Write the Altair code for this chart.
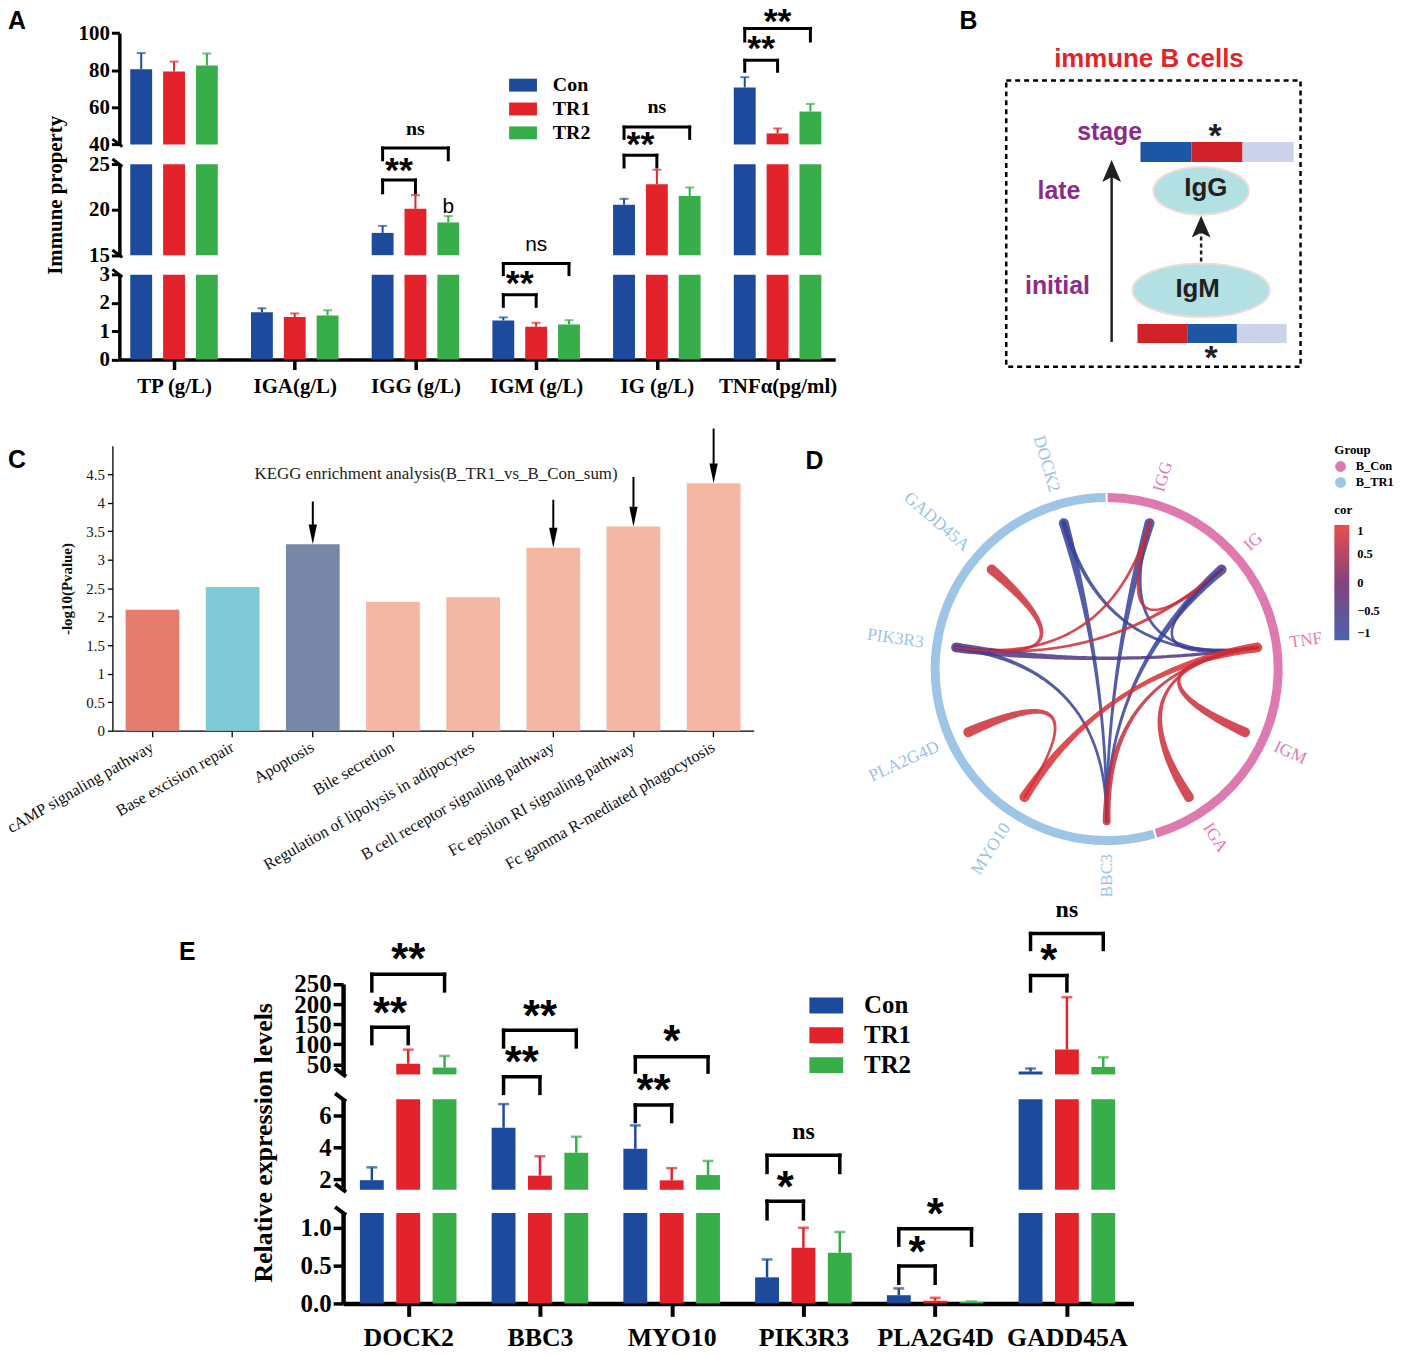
import json
import math

import altair as alt
import pandas as pd

# ------------------------------------------------------------------
# canvas: one big view in the reference pixel frame (shifted by the page margin)
OFF = 8
W, H = 1396, 1347


def R(v):
    return v - OFF


SERIF = "Liberation Serif"
SANS = "Liberation Sans"

# ------------------------------------------------------------------
# DATA
GROUPS = ["Con", "TR1", "TR2"]
GROUP_COLORS = ["#1D4A9C", "#E3232B", "#37AE4A"]

# Panel A : immune properties (mean, sd)
A_CATS = ["TP (g/L)", "IGA(g/L)", "IGG (g/L)", "IGM (g/L)", "IG (g/L)", "TNFα(pg/ml)"]
A_CON = [80.5, 1.67, 17.45, 1.38, 20.55, 70.7]
A_TR1 = [79.3, 1.50, 20.1, 1.16, 22.8, 45.9]
A_TR2 = [82.5, 1.56, 18.6, 1.24, 21.5, 57.7]
A_CON_SD = [8.7, 0.14, 0.77, 0.11, 0.65, 5.5]
A_TR1_SD = [5.3, 0.13, 1.5, 0.14, 1.6, 2.7]
A_TR2_SD = [6.5, 0.18, 0.7, 0.15, 0.95, 4.1]
# significance: segment, category, from group, to group, bar level, leg end, label, label level, style
A_SIG = [
    ("mid", 2, 0, 1, 23.28, 21.86, "**", 24.9, "star"),
    ("mid", 2, 0, 2, 26.8, 25.5, "ns", 28.7, "ns_serif"),
    ("bot", 3, 0, 1, 2.29, 1.88, "**", 2.89, "star"),
    ("bot", 3, 0, 2, 3.39, 3.0, "ns", 4.03, "ns_sans"),
    ("mid", 4, 0, 1, 26.0, 24.7, "**", 27.8, "star"),
    ("mid", 4, 0, 2, 29.1, 27.85, "ns", 31.2, "ns_serif"),
    ("top", 5, 0, 1, 85.3, 79.4, "**", 94.8, "star"),
    ("top", 5, 0, 2, 102.5, 95.7, "**", 109.0, "star"),
]
A_EXTRA = [("mid", 2, 2, 20.5, "b", "b")]  # segment, category, group, level, text, style

# Panel C : KEGG enrichment
C_PATHS = ["cAMP signaling pathway", "Base excision repair", "Apoptosis", "Bile secretion",
           "Regulation of lipolysis in adipocytes", "B cell receptor signaling pathway",
           "Fc epsilon RI signaling pathway", "Fc gamma R-mediated phagocytosis"]
C_VALS = [2.12, 2.52, 3.27, 2.26, 2.34, 3.21, 3.58, 4.34]
C_COLORS = ["#E57C6E", "#80C9D7", "#7886A8", "#F3B7A4", "#F3B7A4", "#F3B7A4", "#F3B7A4", "#F3B7A4"]
C_ARROW_PATHS = ["Apoptosis", "B cell receptor signaling pathway",
                 "Fc epsilon RI signaling pathway", "Fc gamma R-mediated phagocytosis"]
C_ARROW_TOPS = [4.02, 4.05, 4.45, 5.3]
C_TITLE = "KEGG enrichment analysis(B_TR1_vs_B_Con_sum)"

# Panel D : correlation chord diagram
D_NODES = ["IGG", "IG", "TNF", "IGM", "IGA", "BBC3", "MYO10", "PLA2G4D", "PIK3R3", "GADD45A", "DOCK2"]
D_NODE_GROUP = ["B_Con"] * 5 + ["B_TR1"] * 6
D_GROUP_NAMES = ["B_Con", "B_TR1"]
D_GROUP_COLORS = ["#DE7AAF", "#9FC5E6"]
D_LABEL_COLORS = ["#E07DB2", "#9CC2E5"]
D_LINK_SRC = ["DOCK2", "DOCK2", "IGG", "IGG", "IGG", "IGG", "IG", "IG", "IG", "PIK3R3", "PIK3R3",
              "GADD45A", "PLA2G4D", "MYO10", "BBC3", "IGM", "IGA"]
D_LINK_TGT = ["BBC3", "TNF", "BBC3", "TNF", "PIK3R3", "IG", "BBC3", "PIK3R3", "TNF", "TNF", "BBC3",
              "PIK3R3", "MYO10", "TNF", "TNF", "TNF", "TNF"]
D_LINK_COR = [-0.85, -0.8, -0.85, -0.75, 0.8, 0.8, -0.85, 0.8, -0.7, -0.45, -0.8,
              0.8, 0.8, 0.9, 0.75, 0.8, 0.8]
D_LINK_W_SRC = [10, 5, 10, 4, 3, 3, 10, 4, 3, 10, 5, 10, 10, 10, 8, 10, 10]
D_LINK_W_TGT = [3, 3, 3, 3, 3, 2.5, 3, 3, 2.5, 4, 3, 2.5, 2.5, 10, 3, 2.5, 2.5]
COR_STOPS = [-1, 0, 1]
COR_COLORS = ["#2A48A0", "#6C2268", "#E4302B"]

# Panel E : relative expression (mean, sd)
E_GENES = ["DOCK2", "BBC3", "MYO10", "PIK3R3", "PLA2G4D", "GADD45A"]
E_CON = [1.95, 5.22, 3.91, 0.346, 0.109, 32.0]
E_TR1 = [51.7, 2.23, 1.94, 0.737, 0.035, 87.0]
E_TR2 = [42.0, 3.66, 2.27, 0.671, 0.02, 43.6]
E_CON_SD = [0.8, 1.48, 1.46, 0.237, 0.09, 8.0]
E_TR1_SD = [35.0, 1.21, 0.76, 0.267, 0.04, 130.0]
E_TR2_SD = [29.0, 1.0, 0.88, 0.276, 0.005, 24.0]
E_SIG = [
    ("top", 0, 0, 1, 142.2, 101.6, "**", 192.4, "star"),
    ("top", 0, 0, 2, 274.0, 232.7, "**", 325.9, "star"),
    ("mid", 1, 0, 1, 8.41, 7.37, "**", 9.65, "star"),
    ("mid", 1, 0, 2, 11.31, 10.27, "**", 12.55, "star"),
    ("mid", 2, 0, 1, 6.65, 5.61, "**", 7.93, "star"),
    ("mid", 2, 0, 2, 9.65, 8.70, "*", 10.98, "star"),
    ("bot", 3, 0, 1, 1.355, 1.122, "*", 1.614, "star"),
    ("bot", 3, 0, 2, 1.964, 1.737, "ns", 2.254, "ns_serif"),
    ("bot", 4, 0, 1, 0.496, 0.267, "*", 0.759, "star"),
    ("bot", 4, 0, 2, 0.991, 0.772, "*", 1.254, "star"),
    ("top", 5, 0, 1, 270.8, 232.7, "*", 323.4, "star"),
    ("top", 5, 0, 2, 375.4, 335.8, "ns", 430.5, "ns_serif"),
]

# Panel B : schematic
B_TITLE = "immune B cells"
B_STAGE_BAR = ["Con", "TR1", "TR2"]
B_INITIAL_BAR = ["TR1", "Con", "TR2"]
B_BAR_COLORS = {"Con": "#1D56A5", "TR1": "#D22229", "TR2": "#CAD3EA"}

PANEL_LETTERS = ["A", "B", "C", "D", "E"]

# ------------------------------------------------------------------
# LAYOUT (reference pixel frame)
A_X = (120, 840, 175, 121.4)          # axis left, right, first group centre, step
A_SEGS = [("top", 40, 100, 141.3, 29.3, [40, 60, 80, 100]),
          ("mid", 15, 25, 252.7, 161.3, [15, 20, 25]),
          ("bot", 0, 3, 357.7, 272.3, [0, 1, 2, 3])]
E_X = (345, 1140, 410.5, 132.5)
E_SEGS = [("top", 25, 250, 1076.7, 985.7, [50, 100, 150, 200, 250]),
          ("mid", 1.35, 7, 1192.7, 1101.7, [2, 4, 6]),
          ("bot", 0, 1.2, 1307, 1216, [0, 0.5, 1.0])]
C_BOX = (113, 758, 731, 444.3)
D_C = (1113, 669)
RING_OUT, RING_IN, LINK_R, LABEL_R = 177, 168, 153, 186
THIN_W = 2.5
B_ORIGIN = (1000, 30)
LETTER_POS = [(8, 25), (965, 25), (8, 467), (810, 468), (180, 962)]
STAR_DY = 0.47


def qscale(dom, rng, **kw):
    return alt.Scale(domain=list(dom), range=[R(rng[0]), R(rng[1])], nice=False, zero=False,
                     padding=0, **kw)


def xdomain(spec):
    left, right, c0, step = spec
    return ((left - c0) / step, (right - c0) / step), (left, right)


layers = []


# ------------------------------------------------------------------
# broken-axis grouped bar panels (A and E)
def bar_frame(cats, means, sds, offset):
    rows = []
    for i, cat in enumerate(cats):
        for g, name in enumerate(GROUPS):
            m, s = means[g][i], sds[g][i]
            rows.append({"cat": cat, "group": name, "xpos": i + (g - 1) * offset, "mean": m, "top": m + s})
    return pd.DataFrame(rows)


def broken_panel(df, segs, xspec, bar_w, cap_w, err_w, style, xaxis, ytitle, legend,
                 sig, extra, offset, tstyles, bracket_w, brk_len):
    (xd, xr) = xdomain(xspec)
    cs = alt.Scale(domain=GROUPS, range=GROUP_COLORS)
    out = []
    for k, (name, lo, hi, ybot, ytop, ticks) in enumerate(segs):
        xs = qscale(xd, xr)
        ys = qscale((lo, hi), (ybot, ytop))
        yax = dict(orient="left", offset=-R(xspec[0]), values=ticks, grid=False,
                   domainColor="black", domainWidth=style["dw"], tickColor="black",
                   tickWidth=style["tw"], tickSize=style["ts"], labelFont=SERIF,
                   labelFontWeight="bold", labelFontSize=style["lfs"], labelColor="black",
                   labelPadding=style["lp"], labelOverlap=False, labelFlush=False)
        if name == "bot" and style.get("fmt"):
            yax["format"] = style["fmt"]
        if name == "mid":
            yax.update(title=ytitle[0], titleFont=SERIF, titleFontWeight="bold",
                       titleFontSize=ytitle[1], titleColor="black", titleX=ytitle[2],
                       titleY=R(ytitle[3]))
        else:
            yax["title"] = None
        xax = xaxis if name == "bot" else None
        base = alt.Chart(df)
        out.append(
            base.transform_filter(f"datum.mean > {lo}")
            .transform_calculate(yb=f"{lo}", yt=f"min(datum.mean, {hi})")
            .mark_bar(size=bar_w)
            .encode(x=alt.X("xpos:Q", scale=xs, axis=xax),
                    y=alt.Y("yt:Q", scale=ys, axis=alt.Axis(**yax)),
                    y2="yb:Q",
                    color=alt.Color("group:N", scale=cs, legend=legend if name == "top" else None))
        )
        out.append(
            base.transform_filter(f"datum.mean >= {lo} && datum.mean <= {hi}")
            .transform_calculate(yt=f"min(datum.top, {hi})")
            .mark_rule(strokeWidth=err_w)
            .encode(x=alt.X("xpos:Q", scale=qscale(xd, xr), axis=None),
                    y=alt.Y("mean:Q", scale=qscale((lo, hi), (ybot, ytop)), axis=None),
                    y2="yt:Q",
                    color=alt.Color("group:N", scale=cs, legend=None))
        )
        out.append(
            base.transform_filter(f"datum.mean >= {lo} && datum.top >= {lo} && datum.top <= {hi}")
            .mark_tick(orient="horizontal", size=cap_w, thickness=err_w)
            .encode(x=alt.X("xpos:Q", scale=qscale(xd, xr), axis=None),
                    y=alt.Y("top:Q", scale=qscale((lo, hi), (ybot, ytop)), axis=None),
                    color=alt.Color("group:N", scale=cs, legend=None))
        )
        # significance brackets + texts in this segment's units
        lines, texts = [], []
        for (sg, i, g0, g1, ybar, yleg, label, ylab, st) in sig:
            if sg != name:
                continue
            x0, x1 = i + (g0 - 1) * offset, i + (g1 - 1) * offset
            lines += [dict(x=x0, x2=x1, y=ybar, y2=ybar), dict(x=x0, x2=x0, y=ybar, y2=yleg),
                      dict(x=x1, x2=x1, y=ybar, y2=yleg)]
            texts.append(dict(x=(x0 + x1) / 2, y=ylab, text=label, style=st))
        for (sg, i, g, lev, label, st) in extra:
            if sg == name:
                texts.append(dict(x=i + (g - 1) * offset, y=lev, text=label, style=st))
        if lines:
            out.append(
                alt.Chart(pd.DataFrame(lines))
                .mark_rule(strokeWidth=bracket_w, color="black", strokeCap="square")
                .encode(x=alt.X("x:Q", scale=qscale(xd, xr), axis=None), x2="x2:Q",
                        y=alt.Y("y:Q", scale=qscale((lo, hi), (ybot, ytop)), axis=None), y2="y2:Q")
            )
        if texts:
            tdf = pd.DataFrame(texts)
            for st in tdf["style"].unique():
                font, weight, fs, dyf = tstyles[st]
                out.append(
                    alt.Chart(tdf[tdf["style"] == st].reset_index(drop=True))
                    .mark_text(font=font, fontWeight=weight, fontSize=fs, baseline="alphabetic",
                               dy=dyf * fs, color="black")
                    .encode(x=alt.X("x:Q", scale=qscale(xd, xr), axis=None),
                            y=alt.Y("y:Q", scale=qscale((lo, hi), (ybot, ytop)), axis=None),
                            text="text:N")
                )
        # axis-break marks
        ends = []
        if name != "bot":
            ends.append(ybot)
        if name != "top":
            ends.append(ytop)
        for ye in ends:
            out.append(
                alt.Chart(pd.DataFrame({"k": [0]}))
                .mark_rule(strokeWidth=style["dw"] - 0.5, color="black")
                .encode(x=alt.value(R(xspec[0]) - brk_len), x2=alt.value(R(xspec[0]) + 3),
                        y=alt.value(R(ye) - brk_len * 0.75), y2=alt.value(R(ye) + 3 * 0.75))
            )
    return out


def rect_legend(x, y, w, h, fs, offset, rowpad):
    path = f"M-1,{-h / w:.3f}H1V{h / w:.3f}H-1Z"
    return alt.Legend(title=None, orient="none", legendX=R(x), legendY=R(y), symbolType=path,
                      symbolSize=w * w, symbolStrokeWidth=0, symbolOpacity=1, labelFont=SERIF,
                      labelFontWeight="bold", labelFontSize=fs, labelColor="black",
                      labelOffset=offset, rowPadding=rowpad, padding=0)


def bottom_axis(cats, y, fs, ts, tw, dw, lp):
    return alt.Axis(orient="bottom", offset=R(y) - H, values=list(range(len(cats))),
                    labelExpr=json.dumps(cats, ensure_ascii=False) + "[round(datum.value)]",
                    tickSize=ts, tickWidth=tw, tickColor="black", domainWidth=dw, domainColor="black",
                    labelFont=SERIF, labelFontWeight="bold", labelFontSize=fs, labelColor="black",
                    labelPadding=lp, labelOverlap=False, labelFlush=False, grid=False, title=None)


# ---- Panel A
a_df = bar_frame(A_CATS, [A_CON, A_TR1, A_TR2], [A_CON_SD, A_TR1_SD, A_TR2_SD], 0.272)
layers += broken_panel(
    a_df, A_SEGS, A_X, bar_w=22, cap_w=9, err_w=2,
    style=dict(dw=3.5, tw=3, ts=8, lfs=21, lp=2),
    xaxis=bottom_axis(A_CATS, 357.7, 21, 10, 3.5, 3.5, 6),
    ytitle=("Immune property", 21, -54, 192),
    legend=rect_legend(512, 67.7, 28, 13, 20, 16, -6),
    sig=A_SIG, extra=A_EXTRA, offset=0.272,
    tstyles={"star": (SANS, "bold", 36, STAR_DY), "ns_serif": (SERIF, "bold", 20, 0.23),
             "ns_sans": (SANS, "normal", 21, 0.26), "b": (SANS, "normal", 21, 0.36)},
    bracket_w=3, brk_len=7)

# ---- Panel E
e_df = bar_frame(E_GENES, [E_CON, E_TR1, E_TR2], [E_CON_SD, E_TR1_SD, E_TR2_SD], 0.276)
layers += broken_panel(
    e_df, E_SEGS, E_X, bar_w=24, cap_w=11, err_w=2.5,
    style=dict(dw=4.5, tw=3.5, ts=10, lfs=25, lp=2, fmt=".1f"),
    xaxis=bottom_axis(E_GENES, 1307, 26, 13, 4, 4.5, 8),
    ytitle=("Relative expression levels", 26, -67, 1145),
    legend=rect_legend(814, 990.3, 34, 16, 25, 21, -6.5),
    sig=E_SIG, extra=[], offset=0.276,
    tstyles={"star": (SANS, "bold", 44, STAR_DY), "ns_serif": (SERIF, "bold", 24, 0.23)},
    bracket_w=3.5, brk_len=8)

# ---- Panel C
c_left, c_right, c_bot, c_top = C_BOX
c_df = pd.DataFrame({"path": C_PATHS, "val": C_VALS})


def cx_scale():
    return alt.Scale(domain=C_PATHS, range=[R(c_left), R(c_right)], paddingInner=0.33, paddingOuter=0.165)


def cy_scale():
    return qscale((0, 5), (c_bot, c_top))


layers.append(
    alt.Chart(c_df).mark_bar().encode(
        x=alt.X("path:N", scale=cx_scale(), sort=C_PATHS,
                axis=alt.Axis(orient="bottom", offset=R(c_bot) - H, labelAngle=-30, labelAlign="right",
                              labelBaseline="top", labelFont=SERIF, labelFontSize=16.5, labelColor="#111",
                              tickSize=6, tickColor="black", tickWidth=1.3, domainColor="black",
                              domainWidth=1.3, labelPadding=2, labelOffset=-4, labelLimit=500,
                              labelOverlap=False, title=None)),
        y=alt.Y("val:Q", scale=cy_scale(),
                axis=alt.Axis(orient="left", offset=-R(c_left), values=[v / 2 for v in range(10)],
                              format="~g", grid=False, labelFont=SERIF, labelFontSize=15,
                              labelColor="#111", tickSize=5, tickColor="black", tickWidth=1.3,
                              domainColor="black", domainWidth=1.3, labelPadding=3, labelOverlap=False,
                              title="-log10(Pvalue)", titleFont=SERIF, titleFontSize=15,
                              titleFontWeight="bold", titleColor="#111", titleX=-38, titleY=R(588))),
        color=alt.Color("path:N", scale=alt.Scale(domain=C_PATHS, range=C_COLORS), legend=None),
    )
)
arrow_df = pd.DataFrame({"path": C_ARROW_PATHS, "top": C_ARROW_TOPS,
                         "tip": [C_VALS[C_PATHS.index(p)] for p in C_ARROW_PATHS]})
layers.append(
    alt.Chart(arrow_df).transform_calculate(end="datum.tip + 0.2").mark_rule(strokeWidth=2, color="black")
    .encode(x=alt.X("path:N", scale=cx_scale(), sort=C_PATHS, axis=None),
            y=alt.Y("top:Q", scale=cy_scale(), axis=None), y2="end:Q")
)
layers.append(
    alt.Chart(arrow_df).mark_point(shape="M-0.42,-1L0.42,-1L0,1Z", size=400, filled=True, color="black",
                                   opacity=1, yOffset=-10)
    .encode(x=alt.X("path:N", scale=cx_scale(), sort=C_PATHS, axis=None),
            y=alt.Y("tip:Q", scale=cy_scale(), axis=None))
)
layers.append(
    alt.Chart(pd.DataFrame({"t": [C_TITLE]})).mark_text(font=SERIF, fontSize=17, color="#222",
                                                         baseline="middle", align="center")
    .encode(x=alt.value(R(438.5)), y=alt.value(R(473)), text="t:N")
)

# ---- Panel D
SECTOR = 360.0 / len(D_NODES)
node_ang = {n: (i + 0.5) * SECTOR for i, n in enumerate(D_NODES)}


def dx_scale():
    return qscale((-200, 200), (D_C[0] - 200, D_C[0] + 200))


def dy_scale():
    return qscale((-200, 200), (D_C[1] + 200, D_C[1] - 200))


ring_rows = []
for g in D_GROUP_NAMES:
    idx = [i for i, gg in enumerate(D_NODE_GROUP) if gg == g]
    ring_rows.append(dict(group=g, t0=math.radians(min(idx) * SECTOR + 0.35),
                          t1=math.radians((max(idx) + 1) * SECTOR - 0.35), cx=0, cy=0))
layers.append(
    alt.Chart(pd.DataFrame(ring_rows)).mark_arc(radius=RING_OUT, radius2=RING_IN)
    .encode(x=alt.X("cx:Q", scale=dx_scale(), axis=None), y=alt.Y("cy:Q", scale=dy_scale(), axis=None),
            theta=alt.Theta("t0:Q", scale=None), theta2=alt.Theta2("t1:Q"),
            color=alt.Color("group:N", scale=alt.Scale(domain=D_GROUP_NAMES, range=D_GROUP_COLORS),
                            legend=alt.Legend(title="Group", orient="none", legendX=R(1342), legendY=R(443),
                                              symbolType="circle", symbolSize=120, symbolStrokeWidth=0,
                                              titleFont=SERIF, titleFontSize=13, titleFontWeight="bold",
                                              titleColor="black", labelFont=SERIF, labelFontSize=12.5,
                                              labelFontWeight="bold", labelColor="black", labelOffset=9,
                                              rowPadding=3, titlePadding=3, padding=0)))
)
trail_rows = []
for k, (s, t, c, w0, w1) in enumerate(zip(D_LINK_SRC, D_LINK_TGT, D_LINK_COR, D_LINK_W_SRC, D_LINK_W_TGT)):
    a0, a1 = math.radians(node_ang[s]), math.radians(node_ang[t])
    p0 = (LINK_R * math.sin(a0), LINK_R * math.cos(a0))
    p2 = (LINK_R * math.sin(a1), LINK_R * math.cos(a1))
    n = 60
    for j in range(n + 1):
        u = j / n
        w = THIN_W + (w0 - THIN_W) * (1 - u) ** 3 + max(w1 - THIN_W, 0) * u ** 3
        trail_rows.append(dict(link=k, u=u, x=(1 - u) ** 2 * p0[0] + u ** 2 * p2[0],
                               y=(1 - u) ** 2 * p0[1] + u ** 2 * p2[1], w=w, cor=c))
layers.append(
    alt.Chart(pd.DataFrame(trail_rows)).mark_trail(opacity=0.85)
    .encode(x=alt.X("x:Q", scale=dx_scale(), axis=None), y=alt.Y("y:Q", scale=dy_scale(), axis=None),
            size=alt.Size("w:Q", scale=None, legend=None), detail="link:N", order="u:Q",
            color=alt.Color("cor:Q", scale=alt.Scale(domain=COR_STOPS, range=COR_COLORS, interpolate="rgb"),
                            legend=alt.Legend(title="cor", orient="none", legendX=R(1342), legendY=R(503),
                                              direction="vertical", gradientLength=116, gradientThickness=15,
                                              gradientStrokeWidth=0, values=[1, 0.5, 0, -0.5, -1],
                                              format="~g", titleFont=SERIF, titleFontSize=13,
                                              titleFontWeight="bold", titleColor="black", labelFont=SERIF,
                                              labelFontSize=12.5, labelFontWeight="bold", labelColor="black",
                                              labelOffset=8, titlePadding=8, padding=0,
                                              labelOverlap=False)))
)
lab_rows = []
for n, g in zip(D_NODES, D_NODE_GROUP):
    th = node_ang[n]
    rad = math.radians(th)
    right = th < 180
    lab_rows.append(dict(name=n, group=g, x=LABEL_R * math.sin(rad), y=LABEL_R * math.cos(rad),
                         ang=((th - 90) if right else (th + 90)) % 360, side="R" if right else "L"))
lab_df = pd.DataFrame(lab_rows)
for side, al in (("R", "left"), ("L", "right")):
    layers.append(
        alt.Chart(lab_df[lab_df["side"] == side].reset_index(drop=True))
        .mark_text(font=SERIF, fontSize=17.5, align=al, baseline="middle")
        .encode(x=alt.X("x:Q", scale=dx_scale(), axis=None), y=alt.Y("y:Q", scale=dy_scale(), axis=None),
                angle=alt.Angle("ang:Q", scale=None), text="name:N",
                color=alt.Color("group:N", scale=alt.Scale(domain=D_GROUP_NAMES, range=D_LABEL_COLORS),
                                legend=None))
    )


# ---- Panel B (schematic, local frame x 0..310, y 0..330 downward)
def bx_scale():
    return qscale((0, 310), (B_ORIGIN[0], B_ORIGIN[0] + 310))


def by_scale():
    return qscale((0, 330), (B_ORIGIN[1], B_ORIGIN[1] + 330))


def bxy(x="x:Q", y="y:Q"):
    return dict(x=alt.X(x, scale=bx_scale(), axis=None), y=alt.Y(y, scale=by_scale(), axis=None))


layers.append(
    alt.Chart(pd.DataFrame([dict(x=12, x2=308, y=47, y2=335)]))
    .mark_rect(filled=False, color="black", strokeDash=[5, 4], strokeWidth=2.5)
    .encode(**bxy(), x2="x2:Q", y2="y2:Q")
)
bar_rows = []
for order, (xa, xb), (ya, yb) in ((B_STAGE_BAR, (147, 301), (109, 129)), (B_INITIAL_BAR, (144, 294), (292, 311))):
    step = (xb - xa) / len(order)
    for k, gname in enumerate(order):
        bar_rows.append(dict(x=xa + k * step, x2=xa + (k + 1) * step, y=ya, y2=yb, col=B_BAR_COLORS[gname]))
layers.append(
    alt.Chart(pd.DataFrame(bar_rows)).mark_rect()
    .encode(**bxy(), x2="x2:Q", y2="y2:Q", color=alt.Color("col:N", scale=None))
)
for (cx, cy, w, h) in ((208, 158, 96, 48), (208, 258, 138, 54)):
    layers.append(
        alt.Chart(pd.DataFrame([dict(x=cx, y=cy)]))
        .mark_point(shape=f"M-1,0A1,{h / w:.3f},0,1,0,1,0A1,{h / w:.3f},0,1,0,-1,0Z", size=w * w, filled=True,
                    fill="#B2E0E3", stroke="#EDDCDC", strokeWidth=2, opacity=1)
        .encode(**bxy())
    )
layers.append(
    alt.Chart(pd.DataFrame([dict(x=118, y=310, y2=142)]))
    .mark_rule(strokeWidth=2.5, color="#231F20")
    .encode(**bxy(), y2="y2:Q")
)
layers.append(
    alt.Chart(pd.DataFrame([dict(x=208, y=229, y2=196)]))
    .mark_rule(strokeWidth=2.5, color="#231F20", strokeDash=[4, 3])
    .encode(**bxy(), y2="y2:Q")
)
layers.append(
    alt.Chart(pd.DataFrame([dict(x=118, y=127), dict(x=208, y=183)]))
    .mark_point(shape="M0,-1L0.86,1L0,0.55L-0.86,1Z", size=484, filled=True, color="#231F20", opacity=1,
                yOffset=11)
    .encode(**bxy())
)
b_texts = pd.DataFrame([
    dict(t=B_TITLE, x=155.5, y=33.3, col="#E1242B", fs=26),
    dict(t="stage", x=116, y=106.5, col="#8B2C8D", fs=25),
    dict(t="late", x=65, y=166.5, col="#8B2C8D", fs=25),
    dict(t="initial", x=63.5, y=261.5, col="#8B2C8D", fs=25),
    dict(t="IgG", x=212.7, y=163.3, col="#231F20", fs=26),
    dict(t="IgM", x=204.5, y=265, col="#231F20", fs=26),
])
layers.append(
    alt.Chart(b_texts).mark_text(font=SANS, fontWeight="bold", baseline="alphabetic", align="center")
    .encode(**bxy(), text="t:N", color=alt.Color("col:N", scale=None), size=alt.Size("fs:Q", scale=None))
)
layers.append(
    alt.Chart(pd.DataFrame([dict(t="*", x=222, y=98), dict(t="*", x=218, y=321)]))
    .mark_text(font=SANS, fontWeight="bold", fontSize=34, baseline="alphabetic", dy=STAR_DY * 34,
               color="#231F20")
    .encode(**bxy(), text="t:N")
)

# ---- panel letters
layers.append(
    alt.Chart(pd.DataFrame({"t": PANEL_LETTERS, "px": [R(p[0]) for p in LETTER_POS],
                            "py": [R(p[1]) for p in LETTER_POS]}))
    .mark_text(font=SANS, fontWeight="bold", fontSize=25, align="left", baseline="alphabetic", color="black")
    .encode(x=alt.X("px:Q", scale=None, axis=None), y=alt.Y("py:Q", scale=None, axis=None), text="t:N")
)

chart = (
    alt.layer(*layers)
    .resolve_scale(x="independent", y="independent", color="independent", size="independent",
                   angle="independent")
    .properties(width=W, height=H, padding=0, autosize=alt.AutoSizeParams(type="none"),
                background="white")
    .configure_view(stroke=None)
)

chart.save("out.html", embed_options={"renderer": "svg", "actions": False})
